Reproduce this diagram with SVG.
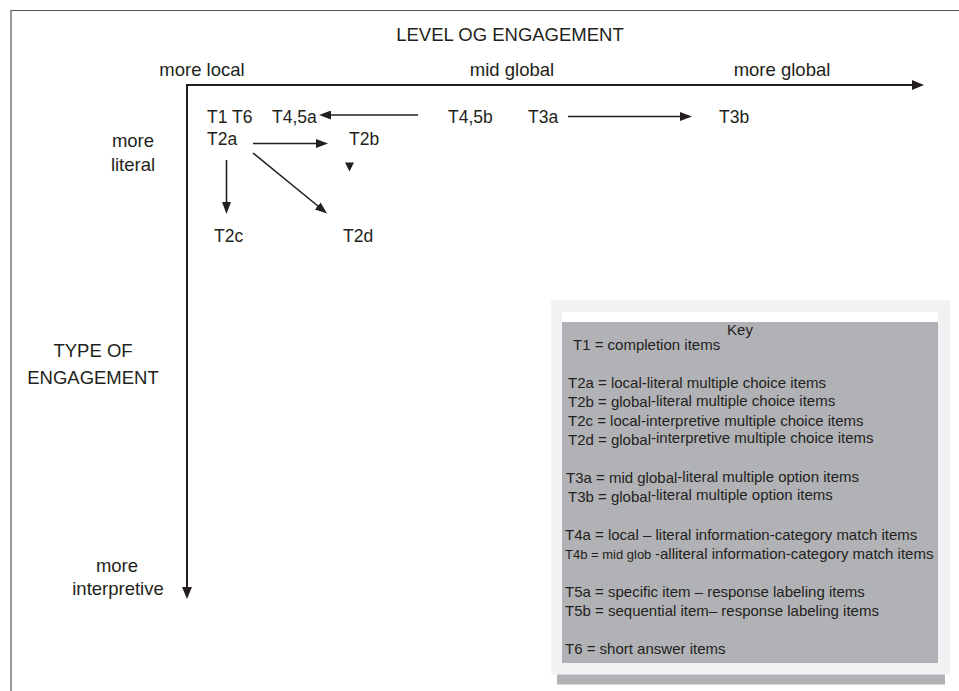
<svg xmlns="http://www.w3.org/2000/svg" width="959" height="691" viewBox="0 0 959 691">
<style>
text{font-family:"Liberation Sans",Arial,sans-serif;fill:#231f20}
.lab{font-size:17.5px}
.ax{font-size:18.5px}
.key{font-size:15px}
.sm{font-size:13px}
.conn{stroke:#231f20;stroke-width:1.6;fill:none}
.axis{stroke:#231f20;stroke-width:2;fill:none}
</style>
<defs>
<marker id="ah" markerWidth="12" markerHeight="9" refX="1" refY="4.5" orient="auto" markerUnits="userSpaceOnUse"><path d="M0,0 L12,4.5 L0,9 z" fill="#231f20"/></marker>
<marker id="ahAx" markerWidth="12" markerHeight="10" refX="1" refY="5" orient="auto" markerUnits="userSpaceOnUse"><path d="M0,0 L12,5 L0,10 z" fill="#231f20"/></marker>
</defs>
<rect width="959" height="691" fill="#fff"/>
<!-- frame -->
<path d="M11,691 V10.5 H959" stroke="#555" stroke-width="1.2" fill="none"/>
<!-- axes -->
<g id="axes">
<path class="axis" d="M187,85 H913" marker-end="url(#ahAx)"/>
<path class="axis" d="M187,84 V588" marker-end="url(#ahAx)"/>
<text class="ax" x="510" y="41" text-anchor="middle">LEVEL OG ENGAGEMENT</text>
<text class="ax" x="202" y="76" text-anchor="middle">more local</text>
<text class="ax" x="512" y="76" text-anchor="middle">mid global</text>
<text class="ax" x="782" y="76" text-anchor="middle">more global</text>
<text class="ax" x="133" y="147" text-anchor="middle">more</text>
<text class="ax" x="133" y="171" text-anchor="middle">literal</text>
<text class="ax" x="93" y="357" text-anchor="middle">TYPE OF</text>
<text class="ax" x="93" y="384" text-anchor="middle">ENGAGEMENT</text>
<text class="ax" x="117" y="572" text-anchor="middle">more</text>
<text class="ax" x="118" y="595" text-anchor="middle">interpretive</text>
</g>
<!-- nodes -->
<g id="n-t1t6"><text class="lab" x="207" y="123">T1 T6</text></g>
<g id="n-t45a"><text class="lab" x="272" y="123">T4,5a</text></g>
<g id="n-t45b"><text class="lab" x="448" y="123">T4,5b</text></g>
<g id="n-t3a"><text class="lab" x="528" y="123">T3a</text></g>
<g id="n-t3b"><text class="lab" x="719" y="123">T3b</text></g>
<g id="n-t2a"><text class="lab" x="207" y="145">T2a</text></g>
<g id="n-t2b"><text class="lab" x="349" y="145">T2b</text></g>
<g id="n-t2c"><text class="lab" x="214" y="242">T2c</text></g>
<g id="n-t2d"><text class="lab" x="343" y="242">T2d</text></g>
<!-- connectors -->
<g id="connectors">
<path class="conn" d="M418,115 H330" marker-end="url(#ah)"/>
<path class="conn" d="M568,116.5 H681" marker-end="url(#ah)"/>
<path class="conn" d="M253,143.5 H317" marker-end="url(#ah)"/>
<path class="conn" d="M226.5,160 V203" marker-end="url(#ah)"/>
<path class="conn" d="M253,153 L318.5,206.5" marker-end="url(#ah)"/>
<path d="M345,162.5 H354 L349.5,171.5 z" fill="#231f20"/>
</g>
<!-- key -->
<g id="key">
<rect x="551" y="300" width="399" height="374.5" fill="#f1f2f4"/>
<rect x="557" y="674.5" width="388" height="10" fill="#b1b2b5"/>
<rect x="562" y="312" width="376" height="10" fill="#fff"/>
<rect x="562" y="322" width="376" height="341" fill="#b1b2b5"/>
<text class="key" x="740" y="335" text-anchor="middle">Key</text>
<text class="key" x="573" y="350">T1 = completion items</text>
<text class="key" x="568" y="388">T2a = local-literal multiple choice items</text>
<text class="key" x="568" y="407">T2b = global<tspan dy="-1">-literal multiple choice items</tspan></text>
<text class="key" x="568" y="426">T2c = local-interpretive multiple choice items</text>
<text class="key" x="568" y="445">T2d = global<tspan dy="-2">-interpretive multiple choice items</tspan></text>
<text class="key" x="566" y="483">T3a = mid global<tspan dy="-1">-literal multiple option items</tspan></text>
<text class="key" x="568" y="502">T3b = global<tspan dy="-2">-literal multiple option items</tspan></text>
<text class="key" x="565" y="540">T4a = local  – literal information-category match items</text>
<text class="key" x="565" y="559"><tspan class="sm">T4b = mid glob </tspan>-alliteral information-category match items</text>
<text class="key" x="565" y="597">T5a = specific item – response labeling items</text>
<text class="key" x="565" y="616">T5b = sequential item– response labeling items</text>
<text class="key" x="565" y="654">T6 = short answer items</text>
</g>
</svg>
